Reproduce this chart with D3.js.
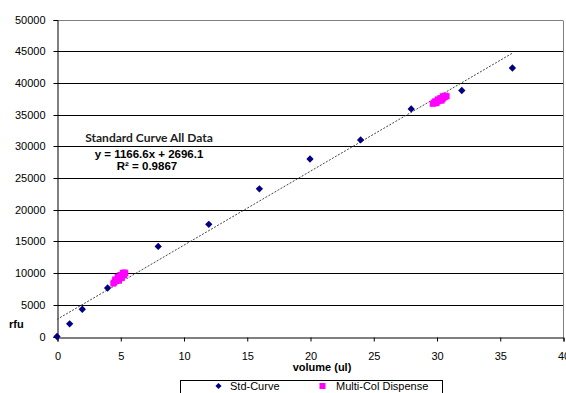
<!DOCTYPE html>
<html><head><meta charset="utf-8">
<script src="https://cdn.jsdelivr.net/npm/d3@7"></script>
<style>body{margin:0;background:#fff}svg{display:block}</style>
</head><body>
<script>
const stdX = [0, 1, 2, 4, 8, 12, 16, 20, 24, 28, 32, 36];
const stdY = [0, 2000, 4300, 7650, 14200, 17700, 23300, 28000, 31000, 35900, 38800, 42350];
const dispX = [4.5, 4.6, 4.65, 4.7, 4.8, 4.85, 4.9, 5.0, 5.05, 5.1, 5.2, 5.25, 5.3, 5.4, 4.6, 4.8, 5.0, 5.2, 4.9, 5.1, 4.45, 5.35,
  29.7, 29.8, 29.9, 30.0, 30.1, 30.2, 30.3, 30.4, 30.5, 30.6, 30.7, 30.8, 29.9, 30.1, 30.3, 30.5, 30.7, 30.0, 30.4];
const dispY = [8500, 8700, 8900, 8800, 9000, 9200, 9100, 9300, 9500, 9400, 9600, 9800, 9700, 9950, 9000, 9400, 9700, 10050, 8800, 9200, 8350, 10100,
  36700, 36900, 36800, 37000, 37100, 37200, 37300, 37400, 37500, 37700, 37800, 37900, 37100, 37400, 37600, 37900, 38000, 36800, 37200];
const xTicks = [0, 5, 10, 15, 20, 25, 30, 35, 40];
const yTicks = [0, 5000, 10000, 15000, 20000, 25000, 30000, 35000, 40000, 45000, 50000];
const slope = 1166.6, intercept = 2696.1, fitRange = [0, 36];
const seriesNames = ["Std-Curve", "Multi-Col Dispense"];

const W = 566, H = 393;
const svg = d3.select("body").append("svg").attr("width", W).attr("height", H);
const x = d3.scaleLinear().domain([0, 40]).range([57, 563]);
const y = d3.scaleLinear().domain([0, 50000]).range([336.5, 19.5]);
const font = "'Liberation Sans', Arial, sans-serif";

// gridlines
svg.append("g").selectAll("line").data(yTicks.slice(1)).join("line")
  .attr("x1", x(0)).attr("x2", x(40))
  .attr("y1", d => Math.round(y(d)) + 0.5).attr("y2", d => Math.round(y(d)) + 0.5)
  .attr("stroke", d => d === 50000 ? "#808080" : "#000").attr("stroke-width", 1);
// right border
svg.append("line").attr("x1", x(40) + 0.5).attr("x2", x(40) + 0.5)
  .attr("y1", Math.round(y(50000)) + 0.5).attr("y2", Math.round(y(0)) + 0.5)
  .attr("stroke", "#808080");

// axes
const xAxis = svg.append("g").attr("transform", `translate(0.5,${Math.round(y(0)) + 0.5})`)
  .call(d3.axisBottom(x).tickValues(xTicks).tickSize(4).tickPadding(11).tickFormat(d3.format("d")));
const yAxis = svg.append("g").attr("transform", `translate(${Math.round(x(0)) + 0.5},0.5)`)
  .call(d3.axisLeft(y).tickValues(yTicks).tickSize(4).tickPadding(8).tickFormat(d3.format("d")));
[xAxis, yAxis].forEach(g => {
  g.select(".domain").attr("stroke", "#000");
  g.selectAll(".tick line").attr("stroke", "#000");
  g.selectAll("text").attr("font-family", font).attr("font-size", 11).attr("fill", "#000");
});
yAxis.selectAll(".tick").attr("transform", d => `translate(0,${Math.round(y(d))})`);

// trendline
svg.append("line")
  .attr("x1", x(fitRange[0])).attr("y1", y(slope * fitRange[0] + intercept))
  .attr("x2", x(fitRange[1])).attr("y2", y(slope * fitRange[1] + intercept))
  .attr("stroke", "#444").attr("stroke-width", 1).attr("stroke-dasharray", "2,1.5");

// dispense points
const dispData = dispX.map((d, i) => [d, dispY[i]]);
svg.append("g").selectAll("rect").data(dispData).join("rect")
  .attr("x", d => x(d[0]) - 3).attr("y", d => y(d[1]) - 3)
  .attr("width", 6).attr("height", 6).attr("fill", "#FF00FF");

// std points
const stdData = stdX.map((d, i) => [d, stdY[i]]);
const diamond = d3.symbol().type(d3.symbolDiamond2).size(34);
svg.append("g").selectAll("path").data(stdData).join("path")
  .attr("d", diamond)
  .attr("transform", d => `translate(${x(d[0])},${y(d[1])})`)
  .attr("fill", "#000080");

// annotation
svg.append("text").attr("x", 149).attr("y", 142).attr("text-anchor", "middle")
  .attr("font-family", "Lato, 'Open Sans', sans-serif").attr("font-weight", "bold").attr("font-size", 12)
  .attr("fill", "#222").text("Standard Curve All Data");
svg.append("text").attr("x", 149).attr("y", 158).attr("text-anchor", "middle")
  .attr("font-family", font).attr("font-weight", "bold").attr("font-size", 11.5)
  .text(`y = ${slope}x  + ${intercept}`);
svg.append("text").attr("x", 147).attr("y", 170).attr("text-anchor", "middle")
  .attr("font-family", font).attr("font-weight", "bold").attr("font-size", 11.5)
  .text("R² = 0.9867");

// axis titles
svg.append("text").attr("x", 322).attr("y", 371).attr("text-anchor", "middle")
  .attr("font-family", font).attr("font-weight", "bold").attr("font-size", 11).text("volume (ul)");
svg.append("text").attr("x", 9).attr("y", 328)
  .attr("font-family", font).attr("font-weight", "bold").attr("font-size", 11).text("rfu");

// legend
const lg = svg.append("g");
lg.append("rect").attr("x", 180.5).attr("y", 380.5).attr("width", 262).attr("height", 30)
  .attr("fill", "#fff").attr("stroke", "#000");
lg.append("path").attr("d", d3.symbol().type(d3.symbolDiamond2).size(24))
  .attr("transform", "translate(218.5,386)").attr("fill", "#000080");
lg.append("rect").attr("x", 319.5).attr("y", 383).attr("width", 6).attr("height", 6).attr("fill", "#FF00FF");
lg.append("text").attr("x", 230).attr("y", 390).attr("font-family", font).attr("font-size", 11).text(seriesNames[0]);
lg.append("text").attr("x", 336).attr("y", 390).attr("font-family", font).attr("font-size", 11).text(seriesNames[1]);
</script>
</body></html>
